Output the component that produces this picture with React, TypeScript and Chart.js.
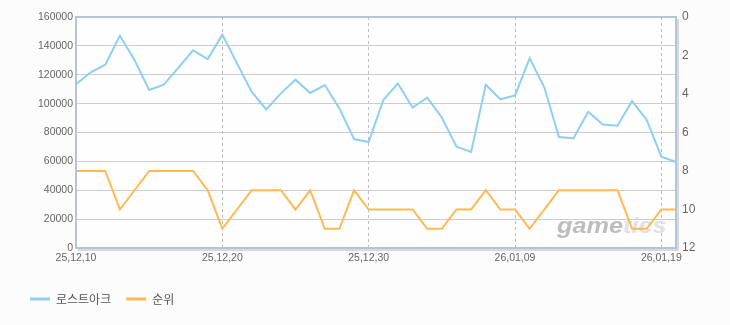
import React, { useEffect, useRef } from "react";
import { Chart, registerables } from "chart.js";

Chart.register(...registerables);

const dates = [
  "25,12,10", "25,12,11", "25,12,12", "25,12,13", "25,12,14", "25,12,15", "25,12,16",
  "25,12,17", "25,12,18", "25,12,19", "25,12,20", "25,12,21", "25,12,22", "25,12,23",
  "25,12,24", "25,12,25", "25,12,26", "25,12,27", "25,12,28", "25,12,29", "25,12,30",
  "25,12,31", "26,01,01", "26,01,02", "26,01,03", "26,01,04", "26,01,05", "26,01,06",
  "26,01,07", "26,01,08", "26,01,09", "26,01,10", "26,01,11", "26,01,12", "26,01,13",
  "26,01,14", "26,01,15", "26,01,16", "26,01,17", "26,01,18", "26,01,19", "26,01,20",
];

const visitors = [
  113400, 121700, 127000, 147000, 130200, 109400, 113100, 124900, 136900, 130900, 147800,
  127900, 108300, 96000, 107100, 116600, 107400, 112900, 96700, 75500, 73400,
  102500, 114000, 97200, 104100, 90300, 70200, 66500,
  113100, 103000, 105700, 131400, 111300, 76900, 76000, 94400, 85600, 84700, 101800,
  88700, 63300, 59600,
];

const ranks = [
  8, 8, 8, 10, 9, 8, 8, 8, 8, 9, 11,
  10, 9, 9, 9, 10, 9, 11, 11, 9, 10, 10, 10, 10, 11, 11, 10, 10,
  9, 10, 10, 11, 10, 9, 9, 9, 9, 9, 11, 11, 10, 10,
];

const seriesNames = ["로스트아크", "순위"];
const leftAxis = { min: 0, max: 160000, step: 20000 };
const rightAxis = { min: 0, max: 12, step: 2 };
const labelEvery = 10;
const watermark = ["game", "tics"];

const BLUE = "#8fcff0";
const ORANGE = "#ffb950";
const TICK_FONT = { family: "'Liberation Sans', Arial, sans-serif", size: 10.5 };

const decorPlugin = {
  id: "decor",
  beforeDraw(chart: any) {
    const { ctx, chartArea: a } = chart;
    ctx.save();
    ctx.fillStyle = "#fcfcfc";
    ctx.fillRect(0, 0, chart.width, chart.height);
    ctx.fillStyle = "#fefefe";
    ctx.fillRect(a.left, a.top, a.right - a.left, a.bottom - a.top);
    ctx.restore();
  },
  beforeDatasetsDraw(chart: any) {
    const { ctx, chartArea: a } = chart;
    ctx.save();
    ctx.translate(a.right - 119, a.bottom - 15);
    ctx.scale(1.15, 1);
    ctx.font = "italic bold 22px 'Liberation Sans', Arial, sans-serif";
    ctx.textBaseline = "alphabetic";
    ctx.fillStyle = "#bdbdbd";
    ctx.fillText(watermark[0], 0, 0);
    const w = ctx.measureText(watermark[0]).width;
    ctx.fillStyle = "#e2e2e2";
    ctx.fillText(watermark[1], w, 0);
    ctx.restore();
  },
  afterDatasetsDraw(chart: any) {
    const { ctx, chartArea: a } = chart;
    ctx.save();
    ctx.strokeStyle = "#d9d9d9";
    ctx.lineWidth = 2;
    ctx.beginPath();
    ctx.moveTo(a.left + 2, a.bottom + 2);
    ctx.lineTo(a.right + 2, a.bottom + 2);
    ctx.lineTo(a.right + 2, a.top + 2);
    ctx.stroke();
    ctx.strokeStyle = "#b3c5d8";
    ctx.lineWidth = 2;
    ctx.strokeRect(a.left, a.top, a.right - a.left, a.bottom - a.top);
    ctx.restore();
  },
};

export default function App() {
  const ref = useRef<HTMLCanvasElement | null>(null);

  useEffect(() => {
    if (!ref.current) return;
    const chart = new Chart(ref.current, {
      type: "line",
      data: {
        labels: dates,
        datasets: [
          {
            label: seriesNames[0],
            data: visitors,
            yAxisID: "y",
            borderColor: BLUE,
            backgroundColor: BLUE,
            borderWidth: 2,
            pointRadius: 0,
            tension: 0,
          },
          {
            label: seriesNames[1],
            data: ranks,
            yAxisID: "y1",
            borderColor: ORANGE,
            backgroundColor: ORANGE,
            borderWidth: 2,
            pointRadius: 0,
            tension: 0,
          },
        ],
      },
      options: {
        animation: false,
        responsive: false,
        maintainAspectRatio: false,
        devicePixelRatio: 1,
        layout: { padding: { left: 15, top: 17, right: 0, bottom: 10 } },
        plugins: {
          tooltip: { enabled: false },
          legend: {
            position: "bottom",
            align: "start",
            labels: {
              boxWidth: 20,
              boxHeight: 3,
              padding: 15,
              color: "#555",
              font: { family: "'Noto Sans CJK KR', sans-serif", size: 12 },
              generateLabels(c: any) {
                const items = (Chart.defaults.plugins.legend.labels as any).generateLabels(c);
                return items.map((it: any) => ({ ...it, lineWidth: 0 }));
              },
            },
          },
        },
        scales: {
          x: {
            grid: {
              drawTicks: false,
              color: "#bdbdbd",
              lineWidth: 1,
            },
            border: { display: false, dash: [3, 3] },
            ticks: {
              autoSkip: false,
              maxRotation: 0,
              padding: 4,
              color: "#666",
              font: TICK_FONT,
              callback: (_v: any, i: number) => (i % labelEvery === 0 ? dates[i] : null),
            },
            afterFit: (s: any) => {
              s.height = 30;
            },
          },
          y: {
            position: "left",
            min: leftAxis.min,
            max: leftAxis.max,
            grid: { drawTicks: false, color: "#cccccc", lineWidth: 1 },
            border: { display: false },
            ticks: {
              stepSize: leftAxis.step,
              padding: 3,
              color: "#666",
              font: TICK_FONT,
              callback: (v: any) => String(v),
            },
            afterFit: (s: any) => {
              s.width = 61;
            },
          },
          y1: {
            position: "right",
            reverse: true,
            min: rightAxis.min,
            max: rightAxis.max,
            grid: { display: false, drawTicks: false },
            border: { display: false },
            ticks: {
              stepSize: rightAxis.step,
              padding: 6,
              color: "#666",
              font: { ...TICK_FONT, size: 12 },
              callback: (v: any) => String(v),
            },
            afterFit: (s: any) => {
              s.width = 54;
            },
          },
        },
      },
      plugins: [decorPlugin],
    } as any);
    return () => chart.destroy();
  }, []);

  return (
    <div style={{ position: "fixed", left: 0, top: 0, width: 730, height: 325, background: "#fcfcfc" }}>
      <canvas ref={ref} width={730} height={325} style={{ width: 730, height: 325, display: "block" }} />
    </div>
  );
}
